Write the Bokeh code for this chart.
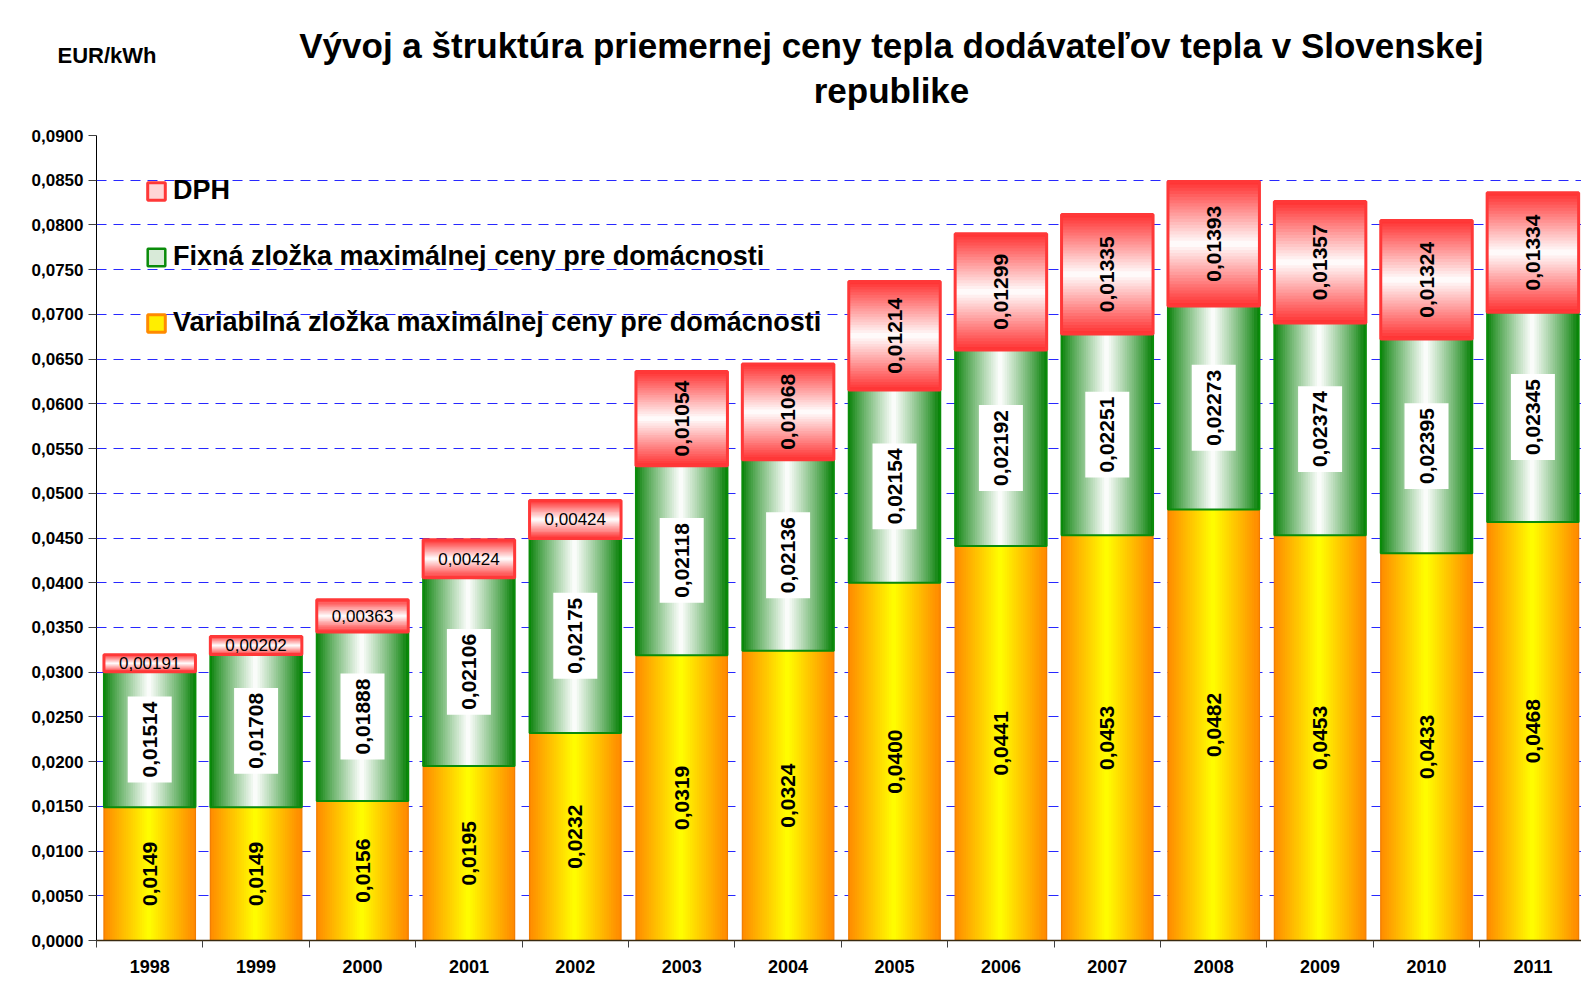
import math
from bokeh.plotting import figure
from bokeh.layouts import column
from bokeh.models import (ColumnDataSource, Range1d, FixedTicker, CustomJSTickFormatter,
                          Legend, LegendItem)
from bokeh.core.properties import value
from bokeh.embed import file_html
from bokeh.resources import INLINE

# ---------------- data ----------------
years = ["1998", "1999", "2000", "2001", "2002", "2003", "2004",
         "2005", "2006", "2007", "2008", "2009", "2010", "2011"]
variabilna = [0.0149, 0.0149, 0.0156, 0.0195, 0.0232, 0.0319, 0.0324,
              0.0400, 0.0441, 0.0453, 0.0482, 0.0453, 0.0433, 0.0468]
fixna = [0.01514, 0.01708, 0.01888, 0.02106, 0.02175, 0.02118, 0.02136,
         0.02154, 0.02192, 0.02251, 0.02273, 0.02374, 0.02395, 0.02345]
dph = [0.00191, 0.00202, 0.00363, 0.00424, 0.00424, 0.01054, 0.01068,
       0.01214, 0.01299, 0.01335, 0.01393, 0.01357, 0.01324, 0.01334]
y_ticks = [0.0, 0.005, 0.010, 0.015, 0.020, 0.025, 0.030, 0.035, 0.040,
           0.045, 0.050, 0.055, 0.060, 0.065, 0.070, 0.075, 0.080, 0.085, 0.090]
series_names = ["DPH",
                "Fixná zložka maximálnej ceny pre domácnosti",
                "Variabilná zložka maximálnej ceny pre domácnosti"]
title_line1 = "Vývoj a štruktúra priemernej ceny tepla dodávateľov tepla v Slovenskej"
title_line2 = "republike"
unit_label = "EUR/kWh"

# ---------------- style ----------------
FONT = "Liberation Sans"
BAR_W = 0.86
NSTRIP = 40

ORANGE = (255, 136, 0)
YELLOW = (255, 255, 0)
GREEN = (0, 125, 0)
WHITE = (255, 255, 255)
RED = (255, 48, 48)


def mix(c1, c2, s):
    return "#%02x%02x%02x" % tuple(int(round(a * (1 - s) + b * s)) for a, b in zip(c1, c2))


def grad_colors(edge, mid, n, power):
    out = []
    for k in range(n):
        t = (k + 0.5) / n
        s = (1 - abs(2 * t - 1)) ** power
        out.append(mix(edge, mid, s))
    return out


def fmt(v, d):
    return f"{v:.{d}f}".replace(".", ",")


idx = list(range(len(years)))
base_fix = list(variabilna)
top_fix = [a + b for a, b in zip(variabilna, fixna)]
top_dph = [a + b for a, b in zip(top_fix, dph)]


def hstrips(bottoms, tops, colors):
    xs, ws, bs, ts, cs = [], [], [], [], []
    n = len(colors)
    sw = BAR_W / n
    for i in idx:
        for k in range(n):
            xs.append(i - BAR_W / 2 + (k + 0.5) * sw)
            ws.append(sw * (1.0 if k in (0, n - 1) else 1.7))
            bs.append(bottoms[i])
            ts.append(tops[i])
            cs.append(colors[k])
    return ColumnDataSource(dict(x=xs, w=ws, bottom=bs, top=ts, color=cs))


def vstrips(bottoms, tops, colors):
    xs, bs, ts, cs = [], [], [], []
    n = len(colors)
    for i in idx:
        d = tops[i] - bottoms[i]
        for k in range(n):
            xs.append(i)
            bs.append(bottoms[i] + k * d / n)
            ts.append(bottoms[i] + (k + 1.7) * d / n if k < n - 1 else tops[i])
            cs.append(colors[k])
    return ColumnDataSource(dict(x=xs, bottom=bs, top=ts, color=cs))


FIG_W, FIG_H = 1581, 983
HEAD_H = 125                      # header strip with the titles
LEFT, TOP, BOTTOM = 96, 10, 43    # main plot borders (frame top ends at 135 px)
PX_PER_CAT = 106.4
X_END = -0.5 + (FIG_W - LEFT) / PX_PER_CAT

# ---------------- header (titles) ----------------
probe = figure()
can_unalign = "frame_align" in probe.properties()
head_x0 = 0 if can_unalign else LEFT

head = figure(width=FIG_W, height=HEAD_H, output_backend="svg", toolbar_location=None,
              x_range=Range1d(head_x0, FIG_W), y_range=Range1d(HEAD_H, 0),
              x_axis_location=None, y_axis_location=None,
              min_border_left=0, min_border_right=0, min_border_top=0, min_border_bottom=0,
              outline_line_color=None, border_fill_color="white", background_fill_color="white")
if can_unalign:
    head.frame_align = False
head.grid.visible = False
head.text(x=[891, 891], y=[45, 90], text=[title_line1, title_line2],
          text_font=value(FONT), text_font_style="bold", text_font_size="35px",
          text_align="center", text_baseline="middle", text_color="black")
if can_unalign:
    head.text(x=[106.5], y=[55], text=[unit_label],
              text_font=value(FONT), text_font_style="bold", text_font_size="22px",
              text_align="center", text_baseline="middle", text_color="black")
else:
    head.text(x=[LEFT + 1], y=[55], text=[unit_label],
              text_font=value(FONT), text_font_style="bold", text_font_size="22px",
              text_align="left", text_baseline="middle", text_color="black")

# ---------------- main chart ----------------
p = figure(width=FIG_W, height=FIG_H - HEAD_H, output_backend="svg", toolbar_location=None,
           x_range=Range1d(-0.5, X_END), y_range=Range1d(0, 0.09),
           min_border_left=LEFT, min_border_right=0, min_border_top=TOP, min_border_bottom=BOTTOM,
           outline_line_color=None, background_fill_color="white", border_fill_color="white")

# grid
p.xgrid.visible = False
p.ygrid.ticker = FixedTicker(ticks=y_ticks)
p.ygrid.grid_line_color = "#2828ff"
p.ygrid.grid_line_dash = "10 7"
p.ygrid.grid_line_width = 1

# y axis
p.yaxis.ticker = FixedTicker(ticks=y_ticks)
p.yaxis.formatter = CustomJSTickFormatter(code="return tick.toFixed(4).replace('.', ',');")
p.yaxis.major_label_text_font = FONT
p.yaxis.major_label_text_font_style = "bold"
p.yaxis.major_label_text_font_size = "17px"
p.yaxis.major_label_text_color = "black"
p.yaxis.major_tick_out = 8
p.yaxis.major_tick_in = 0
p.yaxis.minor_tick_line_color = None
p.yaxis.major_label_standoff = 5
p.yaxis.axis_line_color = "black"
p.yaxis.major_tick_line_color = "#404040"

# x axis
p.xaxis.ticker = FixedTicker(ticks=idx, minor_ticks=[i - 0.5 for i in idx] + [len(idx) - 0.5])
p.xaxis.formatter = CustomJSTickFormatter(args=dict(years=years),
                                          code="return years[Math.round(tick)];")
p.xaxis.major_label_text_font = FONT
p.xaxis.major_label_text_font_style = "bold"
p.xaxis.major_label_text_font_size = "18px"
p.xaxis.major_label_text_color = "black"
p.xaxis.major_tick_out = 0
p.xaxis.major_tick_in = 0
p.xaxis.minor_tick_out = 7
p.xaxis.minor_tick_in = 0
p.xaxis.minor_tick_line_color = "#404040"
p.xaxis.major_label_standoff = 12
p.xaxis.axis_line_color = "#3a2a10"
p.xaxis.axis_line_width = 1.5

# ---------------- bars ----------------
zeros = [0.0] * len(idx)
var_src = hstrips(zeros, variabilna, grad_colors(ORANGE, YELLOW, NSTRIP, 1.0))
p.vbar(x="x", width="w", bottom="bottom", top="top", fill_color="color",
       line_color=None, source=var_src)
p.vbar(x=idx, width=BAR_W, bottom=0, top=variabilna, fill_alpha=0,
       line_color="#f07c00", line_width=1.2)

fix_src = hstrips(base_fix, top_fix, grad_colors(GREEN, WHITE, NSTRIP, 0.85))
p.vbar(x="x", width="w", bottom="bottom", top="top", fill_color="color",
       line_color=None, source=fix_src)
p.vbar(x=idx, width=BAR_W, bottom=base_fix, top=top_fix, fill_alpha=0,
       line_color="#0a8c0a", line_width=2)

dph_src = vstrips(top_fix, top_dph, grad_colors(RED, WHITE, NSTRIP, 1.0))
p.vbar(x="x", width=BAR_W, bottom="bottom", top="top", fill_color="color",
       line_color=None, source=dph_src)
p.vbar(x=idx, width=BAR_W, bottom=top_fix, top=top_dph, fill_alpha=0,
       line_color="#ff3838", line_width=3)

# ---------------- value labels ----------------
var_lab = ColumnDataSource(dict(x=idx, y=[v / 2 for v in variabilna],
                                t=[fmt(v, 4) for v in variabilna]))
p.text(x="x", y="y", text="t", source=var_lab, angle=math.pi / 2,
       text_font=value(FONT), text_font_style="bold", text_font_size="21px",
       text_align="center", text_baseline="middle", text_color="black")

fix_lab = ColumnDataSource(dict(x=idx, y=[(a + b) / 2 for a, b in zip(base_fix, top_fix)],
                                t=[fmt(v, 5) for v in fixna]))
p.text(x="x", y="y", text="t", source=fix_lab, angle=math.pi / 2,
       text_font=value(FONT), text_font_style="bold", text_font_size="21px",
       text_align="center", text_baseline="middle", text_color="black",
       background_fill_color="white", padding=dict(x=5, y=15))

small = [i for i in idx if dph[i] < 0.005]
big = [i for i in idx if dph[i] >= 0.005]
dph_small = ColumnDataSource(dict(x=small, y=[(top_fix[i] + top_dph[i]) / 2 for i in small],
                                  t=[fmt(dph[i], 5) for i in small]))
p.text(x="x", y="y", text="t", source=dph_small,
       text_font=value(FONT), text_font_size="17px",
       text_align="center", text_baseline="middle", text_color="black")
dph_big = ColumnDataSource(dict(x=big, y=[(top_fix[i] + top_dph[i]) / 2 for i in big],
                                t=[fmt(dph[i], 5) for i in big]))
p.text(x="x", y="y", text="t", source=dph_big, angle=math.pi / 2,
       text_font=value(FONT), text_font_style="bold", text_font_size="21px",
       text_align="center", text_baseline="middle", text_color="black")

# ---------------- legend ----------------
nan = float("nan")
lg_dph = p.vbar(x=[nan], top=[nan], width=0.5, fill_color="#ffd6d6",
                line_color="#ff3838", line_width=3)
lg_fix = p.vbar(x=[nan], top=[nan], width=0.5, fill_color="#d8ead8",
                line_color="#0a8c0a", line_width=2.5)
lg_var = p.vbar(x=[nan], top=[nan], width=0.5, fill_color="#ffee00",
                line_color="#ff8a00", line_width=3)
legend = Legend(items=[LegendItem(label=series_names[0], renderers=[lg_dph]),
                       LegendItem(label=series_names[1], renderers=[lg_fix]),
                       LegendItem(label=series_names[2], renderers=[lg_var])],
                location=(49, 602), glyph_width=22, glyph_height=22, spacing=35,
                padding=0, margin=0, label_standoff=6,
                label_text_font=FONT, label_text_font_size="27px",
                label_text_font_style="bold", label_text_color="black",
                border_line_alpha=0, background_fill_alpha=0)
p.add_layout(legend)

layout = column(head, p, spacing=0)
html = file_html(layout, INLINE, title="Vývoj a štruktúra priemernej ceny tepla")
open("out.html", "w").write(html)
